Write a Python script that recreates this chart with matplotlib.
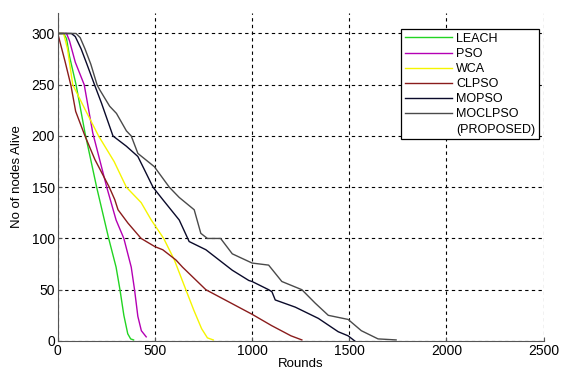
import matplotlib
matplotlib.use("Agg")
import matplotlib.pyplot as plt
from matplotlib.lines import Line2D

plt.rcParams['font.family']=['Liberation Sans','DejaVu Sans']

# rounds / alive nodes
leach_x=[0,30,45,60,94,140,200,262,300,320,340,360,375,390]
leach_y=[300,300,295,278,250,203,150,100,72,50,25,7,2,1]
pso_x=[0,45,60,90,136,180,252,300,340,378,395,412,430,455]
pso_y=[300,300,293,272,250,203,150,118,100,72,50,24,10,4]
wca_x=[0,30,50,77,140,210,290,353,429,481,545,600,659,700,740,770,800]
wca_y=[300,300,285,250,226,200,175,150,135,118,100,79,50,30,12,3,1]
clpso_x=[0,37,68,92,140,191,265,293,310,361,429,500,540,608,642,762,1000,1100,1200,1256]
clpso_y=[300,273,249,224,200,177,150,138,128,115,100,92,89,79,72,50,26,15,5,1]
mopso_x=[0,70,90,120,150,189,225,284,353,412,446,490,540,625,676,762,830,898,983,1000,1085,1102,1119,1222,1341,1443,1494,1528]
mopso_y=[300,300,297,285,270,250,232,200,190,180,167,150,138,118,97,89,79,69,59,58,50,48,40,33,22,9,5,0]
moclpso_x=[0,94,115,140,170,202,216,267,302,353,378,412,497,574,625,702,736,770,838,898,1000,1085,1153,1256,1324,1392,1494,1562,1648,1741]
moclpso_y=[300,300,296,285,270,250,245,229,222,205,200,183,170,150,140,128,105,100,100,85,76,74,58,50,37,25,21,10,2,1]

series=[("LEACH",leach_x,leach_y,"#22d422"),
        ("PSO",pso_x,pso_y,"#b400b4"),
        ("WCA",wca_x,wca_y,"#f5f500"),
        ("CLPSO",clpso_x,clpso_y,"#8a1c1c"),
        ("MOPSO",mopso_x,mopso_y,"#0a0a2a"),
        ("MOCLPSO",moclpso_x,moclpso_y,"#4a4a4a")]

fig=plt.figure(figsize=(5.61,3.71),dpi=100)
ax=fig.add_axes([0.103,0.081,0.866,0.884])

for name,x,y,c in series:
    ax.plot(x,y,color=c,lw=1.0,label=name)

ax.set_xlim(0,2500)
ax.set_ylim(0,320)
ax.set_xticks([0,500,1000,1500,2000,2500])
ax.set_yticks([0,50,100,150,200,250,300])
ax.grid(True,color="black",linestyle=(0,(3,3)),lw=0.8)
for s in ["top","right"]:
    ax.spines[s].set_visible(False)
for s in ["left","bottom"]:
    ax.spines[s].set_color("#555555")
ax.tick_params(direction="in",length=3,labelsize=10,pad=2,color="#555555")
ax.set_xlabel("Rounds",fontsize=9.5,labelpad=0.5)
ax.set_ylabel("No of nodes Alive",fontsize=9.5,labelpad=6)

handles,labels=ax.get_legend_handles_labels()
handles.append(Line2D([],[],color="none"))
labels.append("(PROPOSED)")
leg=ax.legend(handles,labels,loc="upper right",bbox_to_anchor=(0.99,0.951),
              borderaxespad=0,fontsize=9,labelspacing=0.25,handlelength=3.8,
              handletextpad=0.3,borderpad=0.3,fancybox=False,framealpha=1,
              edgecolor="black")
leg.get_frame().set_linewidth(0.9)

fig.savefig("out.png",dpi=100)
